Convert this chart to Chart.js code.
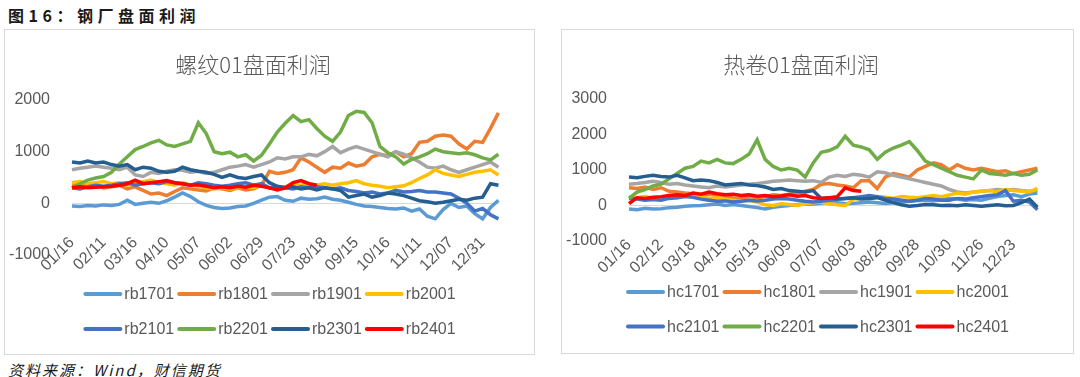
<!DOCTYPE html>
<html lang="zh-CN">
<head>
<meta charset="utf-8">
<title>钢厂盘面利润</title>
<script src="https://cdn.jsdelivr.net/npm/chart.js@4.4.1/dist/chart.umd.min.js"></script>
<style>
  html, body { margin: 0; padding: 0; background: #fff; }
  body { position: relative; width: 1080px; height: 377px; overflow: hidden; font-family: "Noto Sans CJK SC", sans-serif; }
  .fig-title { position: absolute; left: 8px; top: 5px; font-size: 16px; font-weight: bold; letter-spacing: 4.5px; color: #1a1a1a; line-height: 20px; white-space: nowrap; }
  .panel { position: absolute; box-sizing: border-box; border: 1px solid #d9d9d9; }
  .panel canvas { position: absolute; left: 0; top: 0; }
  .source { position: absolute; left: 8px; top: 362px; font-size: 15px; font-style: italic; letter-spacing: 2px; color: #1a1a1a; line-height: 16px; white-space: nowrap; }
</style>
</head>
<body>
<div class="fig-title">图16：钢厂盘面利润</div>
<div class="panel" style="left:4px;top:29px;width:531px;height:326px;">
  <canvas id="rbChart" width="529" height="324"></canvas>
</div>
<div class="panel" style="left:561px;top:29px;width:513px;height:325px;">
  <canvas id="hcChart" width="511" height="323"></canvas>
</div>
<div class="source">资料来源：Wind，财信期货</div>

<script>
// 螺纹 (rb) 01合约盘面利润
const rbDates = [
  '01/16', '01/22', '01/28', '02/04', '02/11', '02/19', '02/27', '03/08',
  '03/16', '03/22', '03/28', '04/03', '04/10', '04/16', '04/23', '04/29',
  '05/07', '05/14', '05/20', '05/26', '06/02', '06/09', '06/16', '06/22',
  '06/29', '07/05', '07/11', '07/17', '07/23', '07/30', '08/05', '08/11',
  '08/18', '08/24', '08/31', '09/07', '09/15', '09/21', '09/29', '10/09',
  '10/16', '10/22', '10/29', '11/04', '11/11', '11/17', '11/23', '11/30',
  '12/07', '12/13', '12/19', '12/25', '12/31', '01/07', '01/13'
];
const rbTicks = ['01/16', '02/11', '03/16', '04/10', '05/07', '06/02', '06/29', '07/23', '08/18', '09/15', '10/16', '11/11', '12/07', '12/31'];

const rb1701 = [-50, -60, -40, -50, -30, -40, -20, 60, -20, 0, 20, 0, 50, 120, 200, 130, 30, -40, -80, -100, -90, -60, -50, 0, 60, 120, 130, 60, 40, 100, 80, 90, 120, 80, 60, 20, -20, -50, -60, -80, -100, -110, -90, -150, -110, -250, -300, -120, 0, -80, -50, -200, -300, -80, 60];
const rb1801 = [350, 380, 330, 360, 300, 320, 350, 280, 320, 250, 180, 200, 150, 230, 300, 280, 260, 240, 300, 280, 250, 300, 260, 280, 350, 620, 580, 600, 650, 880, 800, 700, 600, 700, 680, 780, 720, 750, 900, 950, 920, 1000, 900, 960, 1180, 1200, 1300, 1320, 1300, 1150, 1050, 1200, 1180, 1450, 1750];
const rb1901 = [650, 680, 700, 720, 700, 680, 650, 700, 550, 520, 600, 580, 620, 650, 640, 600, 620, 580, 600, 650, 700, 720, 750, 700, 750, 800, 880, 860, 900, 900, 950, 920, 1000, 1100, 980, 1050, 1100, 1050, 1000, 950, 900, 1000, 950, 880, 800, 700, 680, 720, 650, 600, 650, 700, 750, 800, 700];
const rb2001 = [400, 420, 380, 400, 420, 380, 400, 350, 380, 420, 450, 400, 380, 350, 400, 350, 330, 300, 280, 300, 280, 300, 320, 300, 350, 300, 280, 320, 350, 350, 380, 350, 380, 350, 380, 400, 440, 380, 350, 330, 300, 320, 340, 400, 480, 550, 650, 580, 550, 520, 560, 600, 620, 650, 550];
const rb2101 = [300, 280, 320, 350, 330, 350, 380, 400, 350, 380, 400, 380, 420, 400, 380, 350, 400, 380, 350, 330, 350, 380, 400, 350, 380, 300, 320, 300, 280, 320, 300, 320, 300, 280, 300, 250, 230, 200, 220, 180, 200, 250, 220, 230, 250, 220, 220, 200, 180, 100, 0, -150, -100, -220, -300];
const rb2201 = [300, 380, 450, 490, 520, 600, 760, 900, 1040, 1100, 1170, 1220, 1130, 1100, 1150, 1200, 1560, 1350, 1000, 960, 990, 900, 940, 820, 930, 1150, 1380, 1550, 1700, 1580, 1620, 1450, 1300, 1200, 1380, 1700, 1780, 1760, 1560, 1100, 980, 900, 760, 850, 900, 960, 1050, 1000, 980, 960, 980, 940, 880, 840, 950];
const rb2301 = [800, 780, 820, 780, 800, 750, 720, 750, 650, 700, 680, 620, 600, 620, 700, 650, 620, 600, 560, 500, 550, 500, 480, 520, 550, 400, 330, 300, 320, 280, 300, 260, 300, 280, 250, 120, 150, 180, 120, 150, 200, 180, 150, 100, 50, 30, 0, 20, 50, 80, 60, 100, 120, 380, 350];
const rb2401 = [300, 320, 300, 310, 320, 330, 350, 380, 450, 380, 400, 420, 440, 400, 380, 350, 360, 330, 300, 320, 300, 330, 310, 350, 330, 300, 260, 300, 400, 440, 380, 350];

// 热卷 (hc) 01合约盘面利润
const hcDates = [
  '01/16', '01/23', '01/30', '02/06', '02/12', '02/20', '02/28', '03/09',
  '03/18', '03/24', '03/31', '04/08', '04/15', '04/22', '04/28', '05/06',
  '05/13', '05/20', '05/26', '06/02', '06/09', '06/16', '06/23', '06/30',
  '07/07', '07/14', '07/21', '07/27', '08/03', '08/09', '08/15', '08/22',
  '08/28', '09/05', '09/13', '09/21', '09/28', '10/11', '10/18', '10/24',
  '10/30', '11/06', '11/13', '11/19', '11/26', '12/03', '12/09', '12/16',
  '12/23', '12/30', '01/06', '01/12'
];
const hcTicks = ['01/16', '02/12', '03/18', '04/15', '05/13', '06/09', '07/07', '08/03', '08/28', '09/28', '10/30', '11/26', '12/23'];

const hc1701 = [-100, -120, -80, -100, -90, -60, -50, -20, -10, 0, 20, 40, 0, 30, 0, -30, -60, -100, -50, -20, 0, 20, 50, 40, 60, 100, 80, 50, 60, 80, 100, 80, 60, 80, 100, 120, 140, 150, 130, 160, 200, 180, 150, 170, 150, 200, 250, 280, 300, 250, 320, 350];
const hc1801 = [500, 480, 520, 450, 500, 400, 380, 350, 330, 300, 320, 280, 250, 220, 200, 250, 220, 250, 300, 280, 320, 350, 400, 450, 600, 620, 580, 550, 500, 700, 700, 480, 800, 900, 850, 800, 1000, 1100, 1200, 1150, 1000, 1150, 1050, 1000, 1050, 1000, 950, 980, 900, 950, 1000, 1050];
const hc1901 = [600, 620, 650, 680, 650, 600, 620, 580, 550, 520, 500, 550, 520, 550, 580, 600, 620, 650, 680, 700, 720, 700, 680, 700, 650, 800, 850, 820, 880, 850, 800, 950, 920, 850, 800, 750, 700, 650, 600, 550, 450, 380, 350, 380, 400, 420, 450, 430, 450, 420, 400, 430];
const hc2001 = [250, 220, 250, 200, 220, 250, 220, 280, 300, 250, 200, 220, 180, 150, 120, 150, 100, 20, 0, 50, 30, 0, 50, 80, 100, 50, 20, 0, 180, 200, 220, 250, 230, 200, 250, 230, 220, 250, 280, 250, 300, 350, 320, 380, 400, 420, 380, 450, 420, 400, 380, 480];
const hc2101 = [200, 180, 150, 170, 150, 200, 220, 250, 230, 180, 150, 120, 130, 100, 120, 150, 130, 150, 180, 200, 180, 150, 120, 100, 120, 150, 180, 200, 220, 250, 280, 250, 200, 180, 150, 120, 150, 200, 180, 150, 150, 200, 180, 220, 250, 280, 300, 420, 120, 150, 100, -120];
const hc2201 = [200, 380, 450, 550, 600, 750, 900, 1050, 1100, 1250, 1200, 1300, 1200, 1180, 1300, 1450, 1850, 1300, 1100, 1000, 1050, 1000, 800, 1200, 1500, 1550, 1650, 1950, 1700, 1650, 1570, 1300, 1500, 1620, 1700, 1800, 1550, 1250, 1150, 1050, 950, 850, 800, 750, 1000, 900, 880, 850, 900, 850, 880, 1000];
const hc2301 = [800, 780, 820, 850, 820, 800, 850, 780, 700, 720, 700, 650, 580, 600, 620, 580, 560, 520, 450, 480, 420, 400, 380, 420, 200, 220, 180, 200, 220, 180, 200, 220, 150, 80, 20, -20, 0, 30, 20, 0, 10, -10, 20, 0, -20, 0, 20, -10, 0, 80, 180, -50];
const hc2401 = [50, 220, 200, 230, 250, 280, 300, 280, 350, 320, 380, 330, 300, 320, 280, 300, 260, 280, 250, 270, 300, 260, 280, 220, 200, 220, 250, 500, 420, 400];

const rbNames = ['rb1701', 'rb1801', 'rb1901', 'rb2001', 'rb2101', 'rb2201', 'rb2301', 'rb2401'];
const hcNames = ['hc1701', 'hc1801', 'hc1901', 'hc2001', 'hc2101', 'hc2201', 'hc2301', 'hc2401'];
const colors = ['#5B9BD5', '#ED7D31', '#A5A5A5', '#FFC000', '#4472C4', '#70AD47', '#255E91', '#FF0000'];

Chart.defaults.font.family = '"Liberation Sans", Arial, sans-serif';
Chart.defaults.color = '#595959';

// Excel风格图例：4个一行，线段+文字
const lineLegend = {
  id: 'lineLegend',
  afterDraw(chart, args, opts) {
    const ctx = chart.ctx;
    const sets = chart.data.datasets;
    ctx.save();
    ctx.font = '16px "Liberation Sans", Arial, sans-serif';
    ctx.textBaseline = 'middle';
    for (let r = 0; r * opts.perRow < sets.length; r++) {
      const row = sets.slice(r * opts.perRow, (r + 1) * opts.perRow);
      const widths = row.map(ds => 41 + ctx.measureText(ds.label).width);
      const total = widths.reduce((a, b) => a + b, 0) + 3 * (row.length - 1);
      let x = (chart.width - total) / 2;
      const y = chart.chartArea.bottom + opts.offset + r * opts.rowGap;
      row.forEach((ds, k) => {
        ctx.strokeStyle = ds.borderColor;
        ctx.lineWidth = 4;
        ctx.lineCap = 'round';
        ctx.beginPath();
        ctx.moveTo(x + 2, y);
        ctx.lineTo(x + 37, y);
        ctx.stroke();
        ctx.fillStyle = '#595959';
        ctx.fillText(ds.label, x + 41, y + 1);
        x += widths[k] + 3;
      });
    }
    ctx.restore();
  }
};

function buildChart(canvasId, cfg) {
  const canvas = document.getElementById(canvasId);
  return new Chart(canvas, {
    type: 'line',
    data: {
      labels: cfg.dates,
      datasets: cfg.series.map((data, i) => ({
        label: cfg.names[i],
        data: data,
        borderColor: colors[i],
        backgroundColor: colors[i],
        borderWidth: 3.5,
        pointRadius: 0,
        tension: 0,
        order: cfg.series.length - 1 - i // 后面的合约画在上层
      }))
    },
    options: {
      responsive: false,
      animation: false,
      layout: { padding: { left: 0, right: 33, top: 0, bottom: cfg.bottom } },
      plugins: {
        legend: { display: false },
        tooltip: { enabled: false },
        title: {
          display: true,
          text: cfg.title,
          color: '#595959',
          font: { family: '"Noto Sans CJK SC", sans-serif', size: 22, weight: 300 },
          padding: { top: 21.8, bottom: cfg.titleGap }
        },
        lineLegend: { offset: cfg.legendOffset, rowGap: cfg.rowGap, perRow: 4 }
      },
      scales: {
        x: {
          type: 'category',
          position: { y: 0 },
          grid: { display: false },
          border: { display: true, color: '#d9d9d9', width: 1 },
          ticks: {
            autoSkip: false,
            minRotation: 45,
            maxRotation: 45,
            padding: 22,
            font: { size: 16 },
            callback: function(value, index) {
              const d = cfg.dates[index];
              return cfg.ticks.includes(d) ? d : '';
            }
          }
        },
        y: {
          min: cfg.yMin,
          max: cfg.yMax,
          grid: { display: false },
          border: { display: false },
          ticks: {
            stepSize: 1000,
            padding: 14,
            font: { size: 16 },
            callback: (v) => String(v)
          },
          afterFit: (scale) => { scale.width = 67; }
        }
      }
    },
    plugins: [lineLegend]
  });
}

buildChart('rbChart', {
  title: '螺纹01盘面利润',
  dates: rbDates,
  ticks: rbTicks,
  names: rbNames,
  series: [rb1701, rb1801, rb1901, rb2001, rb2101, rb2201, rb2301, rb2401],
  yMin: -1000,
  yMax: 2000,
  titleGap: 21.8,
  bottom: 99,
  legendOffset: 39,
  rowGap: 35
});

buildChart('hcChart', {
  title: '热卷01盘面利润',
  dates: hcDates,
  ticks: hcTicks,
  names: hcNames,
  series: [hc1701, hc1801, hc1901, hc2001, hc2101, hc2201, hc2301, hc2401],
  yMin: -1000,
  yMax: 3000,
  titleGap: 20.8,
  bottom: 112,
  legendOffset: 51,
  rowGap: 34.5
});
</script>
</body>
</html>
